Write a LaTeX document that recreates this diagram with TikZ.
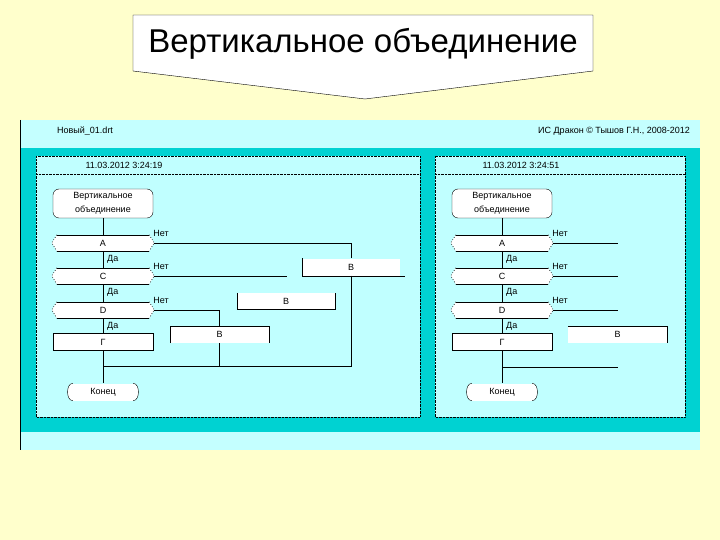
\documentclass[tikz,border=0pt]{standalone}
\usepackage{fontspec}
\setmainfont{Liberation Sans}
\usetikzlibrary{positioning}

\definecolor{slidebg}{HTML}{FFFFCC}
\definecolor{winbar}{HTML}{C4FFFF}
\definecolor{wincyan}{HTML}{00D2D2}
\definecolor{panelcyan}{HTML}{C0FFFF}

\tikzset{
  small/.style={font=\fontsize{9}{10}\selectfont, inner sep=0pt},
  startbox/.style={draw, fill=white, rounded corners=6pt, minimum width=100pt,
    minimum height=29pt, align=center, font=\fontsize{9}{14}\selectfont, inner sep=0pt},
  question/.style={fill=white, minimum width=92pt, minimum height=16pt, inner sep=0pt,
    font=\fontsize{9}{10}\selectfont},
  action/.style={fill=white, minimum width=100pt, minimum height=17pt, inner sep=0pt,
    font=\fontsize{9}{10}\selectfont},
  endbox/.style={fill=white, minimum width=60pt, minimum height=17pt, inner sep=0pt,
    font=\fontsize{9}{10}\selectfont},
  panel/.style={draw, densely dotted, fill=panelcyan},
}

\begin{document}
\begin{tikzpicture}[x=1pt, y=-1pt]
    % Slide
    \fill[slidebg] (0,0) rectangle (720,540);
    \useasboundingbox (0,0) rectangle (720,540);

    % Callout with the title
    \draw[fill=white] (133,15) -- (593,15) -- (593,71) -- (365,99) -- (133,71) -- cycle;
    \node[font=\fontsize{33}{38}\selectfont] (title) at (363,44) {Вертикальное объединение};

    % Window
    \fill[winbar] (20,120) rectangle (700,148);
    \fill[wincyan] (20,148) rectangle (700,432);
    \fill[winbar] (20,432) rectangle (700,450);
    \draw (20.5,120) -- (20.5,450);
    \node[small, anchor=west] (file) at (57,131) {Новый\_01.drt};
    \node[small, anchor=east] (copy) at (690,131) {ИС Дракон © Тышов Г.Н., 2008-2012};

    % Panels
    \draw[panel] (36,156) rectangle (420,417);
    \draw[densely dotted] (36,174) -- (420,174);
    \node[small] (time1) at (124,165) {11.03.2012 3:24:19};
    \draw[panel] (435,156) rectangle (685,417);
    \draw[densely dotted] (435,174) -- (685,174);
    \node[small] (time2) at (521,165) {11.03.2012 3:24:51};

    % Left diagram
    \node[startbox] (s1) at (103,203.5) {Вертикальное\\объединение};
    \node[question] (qa) at (103,243) {A};
    \node[question] (qc) at (103,276) {C};
    \node[question] (qd) at (103,310) {D};
    \node[action, draw] (g1) at (103,342) {Г};
    \node[endbox] (e1) at (103,392) {Конец};
    \node[action, minimum width=98pt] (bE) at (351,267) {В};
    \node[action, minimum width=98pt, minimum height=16pt] (bF) at (286,301) {В};
    \node[action, minimum width=99pt] (bG) at (219.5,334.5) {В};

    % Right diagram
    \node[startbox] (s2) at (502,203.5) {Вертикальное\\объединение};
    \node[question] (qa2) at (502,243) {A};
    \node[question] (qc2) at (502,276) {C};
    \node[question] (qd2) at (502,310) {D};
    \node[action, draw] (g2) at (502,342) {Г};
    \node[endbox] (e2) at (502,392) {Конец};
    \node[action, minimum width=99pt] (bH) at (617.5,334.5) {В};

    % Question sides
    \foreach \q in {qa,qc,qd,qa2,qc2,qd2} {
        \draw[dotted, line width=0.7pt, fill=white] (\q.north west) -- ++(-5,8) -- (\q.south west)
            (\q.north east) -- ++(5,8) -- (\q.south east);
        \draw (\q.north west) -- (\q.north east) (\q.south west) -- (\q.south east);
        \coordinate (\q tip) at ([xshift=5pt]\q.east);
    }

    % End sides
    \foreach \e in {e1,e2}
        \draw[fill=white] (\e.north west) .. controls +(-7,0) and +(-7,0) .. (\e.south west)
            (\e.north east) .. controls +(7,0) and +(7,0) .. (\e.south east);

    % Box edges
    \draw (bE.north west) -- (bE.south west) -- ([xshift=5pt]bE.south east);
    \draw (bF.north west) -- (bF.south west) -- (bF.south east) -- (bF.north east);
    \draw (bG.south west) -- (bG.north west) -- (bG.north east) -- (bG.south east);
    \draw (bH.north west) -- (bH.north east) -- (bH.south east);

    % Labels
    \foreach \q in {qa,qc,qd,qa2,qc2,qd2} {
        \node[small, anchor=west] at ([xshift=-1pt,yshift=10pt]\q tip) {Нет};
        \node[small, anchor=west] at ([xshift=4pt,yshift=-16pt]\q.center) {Да};
    }

    % Left connectors
    \coordinate (j1) at (103,366);
    \coordinate (c1end) at (287,276);
    \draw (s1) -- (qa) (qa) -- (qc) (qc) -- (qd) (qd) -- (g1) (g1) -- (e1);
    \draw (qatip) -| (bE.north);
    \draw (bE.south) -- (bE.south |- j1) -- (j1);
    \draw (qctip) -- (c1end);
    \draw (qdtip) -| (bG.north);
    \draw (bG.south) -- (bG.south |- j1);

    % Right connectors
    \coordinate (j2) at (502,367);
    \coordinate (a2end) at (618,243);
    \coordinate (c2end) at (618,276);
    \coordinate (d2end) at (618,310);
    \coordinate (j2end) at (618,367);
    \draw (s2) -- (qa2) (qa2) -- (qc2) (qc2) -- (qd2) (qd2) -- (g2) (g2) -- (e2);
    \draw (qa2tip) -- (a2end) (qc2tip) -- (c2end) (qd2tip) -- (d2end) (j2) -- (j2end);
\end{tikzpicture}
\end{document}
